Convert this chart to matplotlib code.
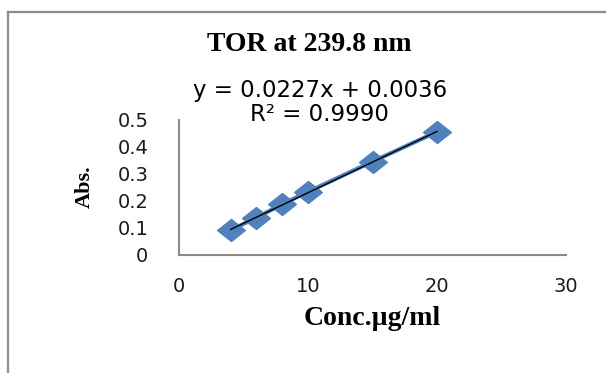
import numpy as np
import matplotlib.pyplot as plt
from matplotlib.lines import Line2D
from matplotlib.path import Path

# data
conc = [4, 6, 8, 10, 15, 20]
absorb = [0.092, 0.138, 0.188, 0.234, 0.346, 0.456]
slope, intercept = 0.0227, 0.0036
x_ticks = [0, 10, 20, 30]
y_ticks = [0, 0.1, 0.2, 0.3, 0.4, 0.5]

fig = plt.figure(figsize=(6.06, 3.73), dpi=100)
ax = fig.add_axes([0.2954, 0.3164, 0.6386, 0.3619])

# wide, flat diamond like the Excel marker
diamond = Path([(-1.2, 0), (0, 0.95), (1.2, 0), (0, -0.95), (-1.2, 0)],
               [Path.MOVETO, Path.LINETO, Path.LINETO, Path.LINETO, Path.CLOSEPOLY])

blue = '#4F81BD'
ax.plot(conc, absorb, color=blue, lw=3, zorder=2)
ax.plot(conc, absorb, ls='none', marker=diamond, ms=20, mec=blue, mfc=blue, zorder=2)
xs = np.array([conc[0], conc[-1]])
ax.plot(xs, slope * xs + intercept, color='black', lw=1, zorder=3)

ax.set_xlim(0, 30)
ax.set_ylim(0, 0.5)
ax.set_xticks(x_ticks)
ax.set_yticks(y_ticks)
ax.set_yticklabels(['0' if v == 0 else f'{v:.1f}' for v in y_ticks])
ax.tick_params(length=0, labelsize=14, colors='#1a1a1a')
ax.tick_params(axis='x', pad=16)
ax.tick_params(axis='y', pad=22)
for s in ['top', 'right']:
    ax.spines[s].set_visible(False)
for s in ['left', 'bottom']:
    ax.spines[s].set_color('#8a8a8a')
    ax.spines[s].set_linewidth(1.5)

serif = ['Liberation Serif', 'DejaVu Serif']
fig.text(0.51, 0.882, 'TOR at 239.8 nm', ha='center', va='center',
         fontsize=20, fontweight='bold', family=serif)
fig.text(0.528, 0.758, 'y = 0.0227x + 0.0036', ha='center', va='center', fontsize=16.5)
fig.text(0.527, 0.692, 'R² = 0.9990', ha='center', va='center', fontsize=16.5)
fig.text(0.615, 0.145, 'Conc.µg/ml', ha='center', va='center',
         fontsize=20, fontweight='bold', family=serif)
fig.text(0.140, 0.499, 'Abs.', ha='center', va='center', rotation=90,
         fontsize=16, fontweight='bold', family=serif)

# outer frame (top and left only)
fig.add_artist(Line2D([0.0132, 1.0], [0.9678, 0.9678], color='#8c8c8c', lw=1.6))
fig.add_artist(Line2D([0.0132, 0.0132], [0.0, 0.9678], color='#8c8c8c', lw=1.6))

fig.savefig('out.png', dpi=100)
